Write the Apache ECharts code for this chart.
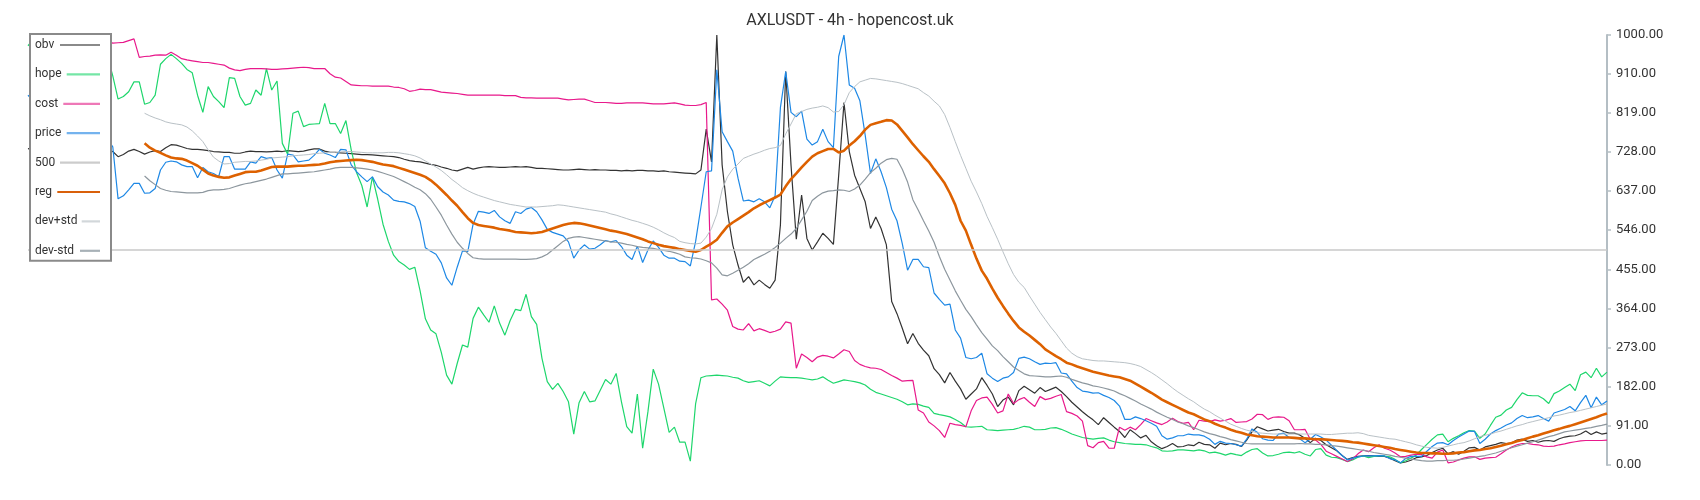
<!DOCTYPE html>
<html>
<head>
<meta charset="utf-8">
<script src="https://cdn.jsdelivr.net/npm/echarts@6/dist/echarts.min.js"></script>
<style>
html,body{margin:0;padding:0;background:#ffffff;}
#chart{width:1700px;height:500px;}
</style>
</head>
<body>
<div id="chart"></div>
<script>
const chartTitle = 'AXLUSDT - 4h - hopencost.uk';
const seriesNames = ['obv', 'hope', 'cost', 'price', '500', 'reg', 'dev+std', 'dev-std'];
const threshold = 500;
const yMin = 0, yMax = 1000, yStep = 91;

const obv = [
735,738,732,728,733,740,736,730,727,732,
738,734,729,731,736,733,729,717,722,730,
734,729,723,728,731,729,738,745,744,740,
736,734,734,733,731,729,728,727,727,725,
725,728,730,729,729,728,729,730,729,731,
730,729,730,733,735,735,730,727,727,726,
725,724,723,722,722,721,720,719,718,717,
715,711,708,706,705,702,699,697,693,690,
686,684,688,692,688,691,693,694,693,692,
692,693,694,693,694,692,690,690,689,688,
687,686,686,687,688,687,686,687,686,686,
685,685,684,685,684,685,685,684,684,683,
684,682,681,680,679,678,677,686,781,705,
1000,698,589,512,465,425,438,419,430,420,
411,430,558,915,698,525,628,527,500,519,
539,527,513,674,843,729,674,643,612,550,
577,550,512,380,352,318,282,306,283,267,
254,224,210,191,215,195,177,153,165,177,
203,185,165,136,151,158,140,173,183,175,
167,180,171,176,181,171,159,146,135,124,
114,105,94,110,99,88,78,64,82,73,
63,69,54,45,38,43,50,42,43,47,
45,53,48,47,39,51,47,50,48,43,
58,77,89,84,79,81,83,78,74,74,
70,62,52,62,57,47,40,33,22,13,
17,20,21,22,21,20,20,16,10,5,
7,11,17,19,22,29,35,39,26,31,
25,32,40,41,35,42,45,48,52,50,
51,58,60,55,57,53,56,57,55,61,
65,67,68,72,79,71,77,72,74
];

const hope = [
975,990,1000,985,965,975,990,970,955,965,
985,975,960,950,965,950,905,851,857,868,
891,891,839,843,860,932,945,955,945,934,
920,912,860,820,880,857,845,831,901,899,
857,837,841,872,860,922,872,893,748,723,
818,823,787,792,793,794,841,794,794,771,
801,733,680,650,600,670,618,560,520,488,
473,465,455,460,405,340,314,305,262,209,
188,236,279,274,341,367,349,332,370,330,
302,336,362,359,397,345,327,248,194,176,
190,171,147,72,145,171,147,149,174,199,
188,213,147,89,74,165,39,124,223,188,
132,76,88,53,53,9,143,203,207,208,
209,208,207,204,202,196,192,194,196,190,
184,195,205,204,203,203,202,200,198,200,
205,197,190,194,198,196,194,191,186,176,
169,165,161,157,153,147,140,142,141,137,
134,120,117,115,112,106,99,89,88,89,
90,82,81,80,81,82,83,86,90,88,
82,82,83,86,87,83,78,72,68,64,
62,60,62,63,58,54,52,50,49,48,
48,47,43,40,33,32,33,35,35,34,
33,35,33,28,30,27,23,27,24,22,
30,36,38,28,21,22,25,29,30,28,
31,25,21,36,38,23,18,17,13,8,
12,18,21,17,20,22,21,19,13,5,
10,16,23,36,48,60,70,72,54,62,
68,75,80,79,62,72,92,111,116,128,
134,152,168,162,161,161,154,143,166,172,
180,188,173,210,216,203,225,205,216
];

const cost = [
1004,1006,1008,1005,1003,1006,1008,1007,1005,1006,
1008,1004,1000,997,992,986,981,982,983,987,
991,948,950,951,953,954,953,960,953,945,
942,940,938,936,936,934,932,930,923,919,
917,920,922,922,922,921,920,920,921,922,
923,924,925,924,922,922,922,910,902,900,
892,884,883,882,882,881,881,881,881,879,
878,875,869,871,874,873,873,870,867,866,
865,864,862,860,860,860,860,860,860,860,
859,859,859,855,854,854,853,853,853,853,
853,851,849,850,851,851,847,843,843,843,
842,841,841,842,842,842,842,841,840,840,
840,841,842,840,837,836,836,838,843,384,
386,374,360,322,316,314,329,312,317,313,
308,311,316,333,330,225,258,250,240,251,
255,253,249,258,268,264,243,234,229,226,
225,222,215,208,202,195,196,197,128,121,
100,91,80,64,97,94,92,89,126,150,
156,158,141,121,126,165,143,152,157,146,
136,159,152,155,160,164,124,120,114,102,
45,40,52,55,39,39,88,81,88,82,
94,108,103,98,94,100,109,101,97,99,
82,104,102,101,105,102,104,108,99,100,
101,107,118,117,106,111,112,111,103,82,
82,83,60,58,48,32,26,20,14,8,
14,26,35,31,40,47,39,35,28,19,
20,23,25,24,19,16,30,35,5,7,
12,16,19,19,13,16,17,18,26,35,
42,47,50,50,48,47,44,43,44,47,
49,52,54,56,57,57,57,57,58
];

const price = [
860,845,830,840,820,810,800,815,795,780,
790,770,760,775,765,758,740,619,626,640,
655,655,632,633,643,686,704,707,705,698,
694,694,668,692,682,678,671,717,717,688,
688,688,705,702,717,713,715,686,667,723,
721,705,707,709,720,734,725,721,715,734,
733,698,682,670,659,670,647,635,628,616,
613,612,608,601,567,505,497,490,470,435,
418,460,498,496,560,590,588,585,592,577,
568,562,589,585,595,599,589,570,548,541,
537,533,519,481,500,512,502,504,512,522,
519,522,508,488,478,509,471,500,521,506,
488,481,481,474,473,463,520,600,682,684,
919,775,752,730,667,614,616,612,619,612,
598,626,831,915,820,810,823,758,744,752,
781,752,738,950,1000,884,876,847,767,678,
712,682,645,595,568,515,453,478,478,461,
459,400,385,372,374,314,295,250,247,250,
260,212,202,194,202,205,215,248,251,247,
240,234,237,236,238,214,212,195,180,172,
170,167,168,162,157,150,137,106,106,112,
108,103,97,90,68,60,63,68,68,72,
70,70,67,60,48,55,51,50,47,44,
60,84,76,61,58,57,72,74,64,63,
61,52,60,71,65,58,46,34,22,12,
16,19,21,21,21,22,21,15,12,5,
15,20,20,20,32,43,51,52,47,57,
65,72,79,78,50,60,72,80,86,93,
98,108,115,110,112,115,108,102,121,125,
129,136,126,145,162,133,158,140,149
];

const reg = [
null,null,null,null,null,null,null,null,null,null,
null,null,null,null,null,null,null,null,null,null,
null,null,748,738,731,726,720,715,713,712,
708,702,696,687,678,673,670,668,669,673,
677,681,682,682,685,689,693,694,694,694,
695,696,696,697,698,699,701,704,706,707,
708,709,710,709,707,705,702,699,697,695,
691,687,683,679,675,670,662,652,640,628,
615,603,588,574,563,558,556,554,552,549,
547,545,542,541,540,539,540,542,546,550,
554,558,561,563,562,560,557,554,551,548,
545,543,540,537,533,529,525,520,516,512,
509,507,505,502,500,498,496,500,508,515,
524,540,555,564,572,580,588,597,604,610,
616,622,629,648,665,678,692,705,717,725,
730,735,735,727,731,743,753,765,780,791,
795,798,802,801,792,777,762,746,732,718,
705,688,672,655,632,605,568,545,512,480,
452,433,410,389,370,352,335,320,310,301,
291,281,269,261,253,246,238,234,229,225,
221,217,214,211,208,206,204,200,196,189,
182,175,168,160,152,146,140,134,128,122,
118,112,106,102,96,91,87,82,78,75,
71,69,67,66,65,64,64,64,64,63,
62,62,61,60,60,59,58,57,56,55,
53,52,50,48,46,44,42,40,37,35,
33,31,29,28,28,27,27,26,26,27,
29,30,32,34,35,37,39,42,45,48,
51,55,58,62,66,69,73,77,81,84,
88,91,95,99,103,107,111,116,120
];

const devPlus = [
null,null,null,null,null,null,null,null,null,null,
null,null,null,null,null,null,null,null,null,null,
null,null,818,812,807,803,798,795,793,791,
786,777,765,752,733,716,707,700,701,704,
705,706,706,707,709,711,714,715,716,717,
719,720,721,722,724,725,726,727,727,728,
729,729,728,727,726,726,726,726,727,727,
726,724,722,719,714,707,700,693,685,675,
664,655,645,638,632,627,623,619,615,612,
609,606,604,602,600,600,600,601,602,603,
605,604,602,600,598,596,594,592,590,588,
584,581,577,573,569,566,562,558,553,547,
540,534,529,520,517,515,514,516,530,550,
583,640,670,688,700,713,718,723,727,732,
736,738,743,770,793,817,822,827,830,832,
835,831,821,822,838,866,880,891,895,899,
898,896,894,892,890,887,883,879,875,866,
858,846,835,815,785,752,720,690,660,635,
608,578,552,525,496,468,443,425,413,393,
374,355,338,321,306,289,272,260,252,247,
245,243,242,242,241,240,239,238,236,233,
229,222,215,207,198,189,179,170,162,154,
147,138,130,124,116,109,102,95,90,85,
81,78,75,74,73,72,72,72,72,72,
72,72,72,72,72,71,71,72,73,74,
74,75,73,69,67,65,63,61,60,57,
54,51,47,44,41,40,39,41,44,47,
50,52,56,61,66,69,72,76,79,83,
87,91,94,98,101,104,107,110,114,116,
119,122,124,127,130,133,136,139,142
];

const devMinus = [
null,null,null,null,null,null,null,null,null,null,
null,null,null,null,null,null,null,null,null,null,
null,null,672,661,652,643,639,636,635,634,
633,633,633,634,638,640,640,641,643,647,
651,654,656,659,662,665,669,673,677,677,
678,679,680,681,682,684,686,688,691,692,
692,692,691,690,688,686,683,679,675,671,
665,659,653,646,640,631,618,600,581,558,
537,518,504,492,482,480,479,479,479,479,
479,479,479,478,478,479,480,484,490,500,
510,520,527,530,531,529,527,525,523,521,
519,518,516,513,511,508,506,505,504,501,
499,497,494,490,484,482,481,479,475,470,
458,442,440,446,453,460,468,478,484,490,
497,506,516,527,537,550,570,590,615,625,
633,637,638,640,639,636,642,651,665,680,
690,702,710,713,711,688,658,617,593,568,
544,518,485,455,430,405,383,362,345,326,
308,293,277,266,252,240,228,220,212,208,
207,206,205,205,206,207,204,199,195,191,
188,184,182,179,176,172,166,161,155,149,
142,136,130,123,117,111,106,100,96,91,
87,82,77,73,70,66,63,59,56,53,
50,49,49,49,49,49,49,49,49,49,
50,49,49,48,48,47,45,44,42,40,
38,36,34,32,29,27,25,23,20,18,
16,14,12,10,9,9,10,10,11,11,
12,14,16,18,20,22,25,28,32,36,
40,44,47,51,54,58,62,66,69,73,
77,79,81,83,85,87,90,92,95
];

const categories = obv.map((_, i) => String(i + 1));

// ---------- styling ----------
const FONT = 'Roboto';
const lineColors = {
  'obv': '#333333', 'hope': '#1ed66c', 'cost': '#e8198b', 'price': '#1e88e5',
  '500': '#c8c8c8', 'reg': '#dd6100', 'dev+std': '#b9c1c6', 'dev-std': '#8d979e'
};
const lineWidths = {
  'obv': 1.2, 'hope': 1.2, 'cost': 1.2, 'price': 1.2,
  '500': 1.6, 'reg': 2.6, 'dev+std': 1, 'dev-std': 1.2
};
const legendColors = {
  'obv': '#8a8a8a', 'hope': '#74e6a6', 'cost': '#ee78b7', 'price': '#74b3ee',
  '500': '#cccccc', 'reg': '#d9600a', 'dev+std': '#d2d7da', 'dev-std': '#a8b1b7'
};
const legendIconStart = {
  'obv': 5, 'hope': 11.7, 'cost': 8.3, 'price': 11.7,
  '500': 5, 'reg': 2.3, 'dev+std': 26.7, 'dev-std': 25
};
const ICON_W = 45, ICON_H = 14;
function iconPath(a) {
  return 'path://M0,0M' + ICON_W + ',' + ICON_H + 'M' + a + ',5.9L' + ICON_W + ',5.9L' + ICON_W + ',8.1L' + a + ',8.1Z';
}

const dataByName = {
  'obv': obv, 'hope': hope, 'cost': cost, 'price': price,
  'reg': reg, 'dev+std': devPlus, 'dev-std': devMinus
};

const series = seriesNames.map(name => {
  const s = {
    name: name,
    type: 'line',
    data: name === '500' ? [] : dataByName[name],
    showSymbol: false,
    symbol: 'none',
    color: lineColors[name],
    lineStyle: { color: lineColors[name], width: lineWidths[name] },
    emphasis: { disabled: true },
    animation: false,
    silent: true
  };
  if (name === '500') {
    s.markLine = {
      silent: true,
      symbol: ['none', 'none'],
      label: { show: false },
      lineStyle: { color: lineColors[name], width: lineWidths[name], type: 'solid' },
      emphasis: { disabled: true },
      animation: false,
      data: [{ yAxis: threshold }]
    };
  }
  return s;
});

const chart = echarts.init(document.getElementById('chart'), null, { renderer: 'canvas' });
chart.setOption({
  animation: false,
  backgroundColor: '#ffffff',
  textStyle: { fontFamily: FONT },
  title: {
    text: chartTitle,
    left: 'center',
    top: 8,
    textStyle: { fontFamily: FONT, fontSize: 16, fontWeight: 'normal', color: '#333333' }
  },
  legend: {
    orient: 'vertical',
    left: 30,
    top: 34,
    align: 'right',
    itemWidth: ICON_W,
    itemHeight: ICON_H,
    itemGap: 15.4,
    padding: [4, 11, 3, 5],
    backgroundColor: '#ffffff',
    borderColor: '#8a8a8a',
    borderWidth: 2,
    borderRadius: 0,
    selectedMode: false,
    itemStyle: { borderWidth: 0 },
    formatter: n => '{a|' + n + '}',
    textStyle: {
      fontFamily: FONT, fontSize: 12, color: '#333333',
      rich: { a: { width: 15, align: 'left', fontFamily: FONT, fontSize: 12, color: '#333333', lineHeight: 14 } }
    },
    data: seriesNames.map(n => ({
      name: n,
      icon: iconPath(legendIconStart[n]),
      itemStyle: { color: legendColors[n], borderWidth: 0 }
    })),
    z: 10
  },
  grid: { left: 28, right: 93, top: 35, bottom: 35, containLabel: false },
  xAxis: {
    type: 'category',
    data: categories,
    boundaryGap: false,
    show: false
  },
  yAxis: {
    type: 'value',
    position: 'right',
    min: yMin,
    max: yMax,
    interval: yStep,
    splitLine: { show: false },
    axisLine: { show: true, lineStyle: { color: '#b4bec4', width: 2 } },
    axisTick: { show: true, length: 4, lineStyle: { color: '#b4bec4', width: 1.5 } },
    axisLabel: {
      margin: 9,
      fontFamily: FONT, fontSize: 13, color: '#333333',
      formatter: v => Number(v).toFixed(2)
    }
  },
  series: series
});
</script>
</body>
</html>
